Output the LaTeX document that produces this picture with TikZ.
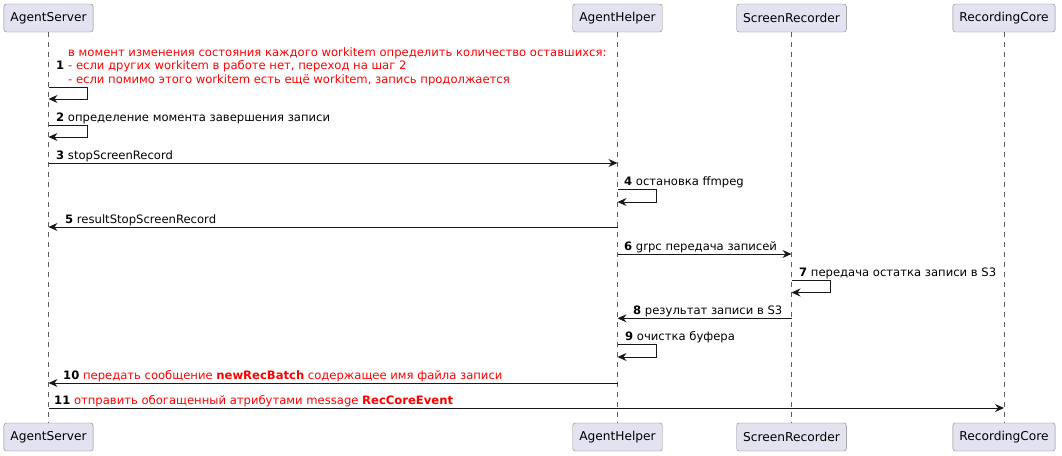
\documentclass[tikz,border=0pt]{standalone}
\usepackage{fontspec}
\setmainfont{DejaVu Sans}
\usetikzlibrary{arrows.meta}

\definecolor{partfill}{HTML}{E2E2F0}
\definecolor{umlline}{HTML}{181818}
\definecolor{umlred}{HTML}{FF0000}

\tikzset{
	part/.style={draw=black!50, fill=partfill, rounded corners=2.5pt, minimum height=28pt, inner xsep=6.5pt, font=\fontsize{12.2}{14}\selectfont},
	life/.style={umlline!70, dash pattern=on 5pt off 5pt, line width=0.6pt},
	msg/.style={umlline, line width=1pt, -{Stealth[length=9pt,width=8pt,inset=3pt]}},
	lbl/.style={anchor=base west, inner sep=0pt, font=\fontsize{11.6}{13.7}\selectfont},
}
\newcommand{\redtxt}[1]{\textcolor{umlred}{#1}}

\begin{document}
\begin{tikzpicture}[x=1pt,y=-1pt]
		\useasboundingbox (0,0) rectangle (1062,455);
		
		% participants
		\node[part] (asT) at (48.5,18) {AgentServer};
		\node[part] (ahT) at (617.5,18) {AgentHelper};
		\node[part] (srT) at (791.5,18) {ScreenRecorder};
		\node[part] (rcT) at (1004,18) {RecordingCore};
		\node[part] (asB) at (48.5,437) {AgentServer};
		\node[part] (ahB) at (617.5,437) {AgentHelper};
		\node[part] (srB) at (791.5,437) {ScreenRecorder};
		\node[part] (rcB) at (1004,437) {RecordingCore};
		
		\draw[life] (asT) -- (asB);
		\draw[life] (ahT) -- (ahB);
		\draw[life] (srT) -- (srB);
		\draw[life] (rcT) -- (rcB);
		
		% 1
		\coordinate (m1a) at (48.5,87);
		\coordinate (m1b) at (48.5,99);
		\draw[msg] (m1a) -- ++(38.5,0) |- (m1b);
		\node[lbl] (n1) at (56,69.5) {\textbf{1}};
		\node[lbl, anchor=north west, align=left, text=umlred] (t1) at (68,47) {в момент изменения состояния каждого workitem определить количество оставшихся:\\- если других workitem в работе нет, переход на шаг 2\\- если помимо этого workitem есть ещё workitem, запись продолжается};
		
		% 2
		\coordinate (m2a) at (48.5,125);
		\coordinate (m2b) at (48.5,137);
		\draw[msg] (m2a) -- ++(38.5,0) |- (m2b);
		\node[lbl] (t2) at (56,121) {\textbf{2} определение момента завершения записи};
		
		% 3
		\coordinate (m3a) at (48.5,163);
		\coordinate (m3b) at (617.5,163);
		\draw[msg] (m3a) -- (m3b);
		\node[lbl] (t3) at (56,159) {\textbf{3} stopScreenRecord};
		
		% 4
		\coordinate (m4a) at (617.5,189);
		\coordinate (m4b) at (617.5,202);
		\draw[msg] (m4a) -- ++(38.5,0) |- (m4b);
		\node[lbl] (t4) at (624,185.5) {\textbf{4} остановка ffmpeg};
		
		% 5
		\coordinate (m5a) at (617.5,227);
		\coordinate (m5b) at (48.5,227);
		\draw[msg] (m5a) -- (m5b);
		\node[lbl] (t5) at (65,223) {\textbf{5} resultStopScreenRecord};
		
		% 6
		\coordinate (m6a) at (617.5,254);
		\coordinate (m6b) at (791.5,254);
		\draw[msg] (m6a) -- (m6b);
		\node[lbl] (t6) at (624,250) {\textbf{6} grpc передача записей};
		
		% 7
		\coordinate (m7a) at (791.5,280);
		\coordinate (m7b) at (791.5,292.5);
		\draw[msg] (m7a) -- ++(38.5,0) |- (m7b);
		\node[lbl] (t7) at (799,276) {\textbf{7} передача остатка записи в S3};
		
		% 8
		\coordinate (m8a) at (791.5,318.3);
		\coordinate (m8b) at (617.5,318.3);
		\draw[msg] (m8a) -- (m8b);
		\node[lbl] (t8) at (633,314) {\textbf{8} результат записи в S3};
		
		% 9
		\coordinate (m9a) at (617.5,344);
		\coordinate (m9b) at (617.5,357);
		\draw[msg] (m9a) -- ++(38.5,0) |- (m9b);
		\node[lbl] (t9) at (625,340) {\textbf{9} очистка буфера};
		
		% 10
		\coordinate (m10a) at (617.5,383);
		\coordinate (m10b) at (48.5,383);
		\draw[msg] (m10a) -- (m10b);
		\node[lbl] (t10) at (63,379) {\textbf{10} \redtxt{передать сообщение \textbf{newRecBatch} содержащее имя файла записи}};
		
		% 11
		\coordinate (m11a) at (48.5,408);
		\coordinate (m11b) at (1004,408);
		\draw[msg] (m11a) -- (m11b);
		\node[lbl] (t11) at (54,404) {\textbf{11} \redtxt{отправить обогащенный атрибутами message \textbf{RecCoreEvent}}};
		
\end{tikzpicture}
\end{document}
